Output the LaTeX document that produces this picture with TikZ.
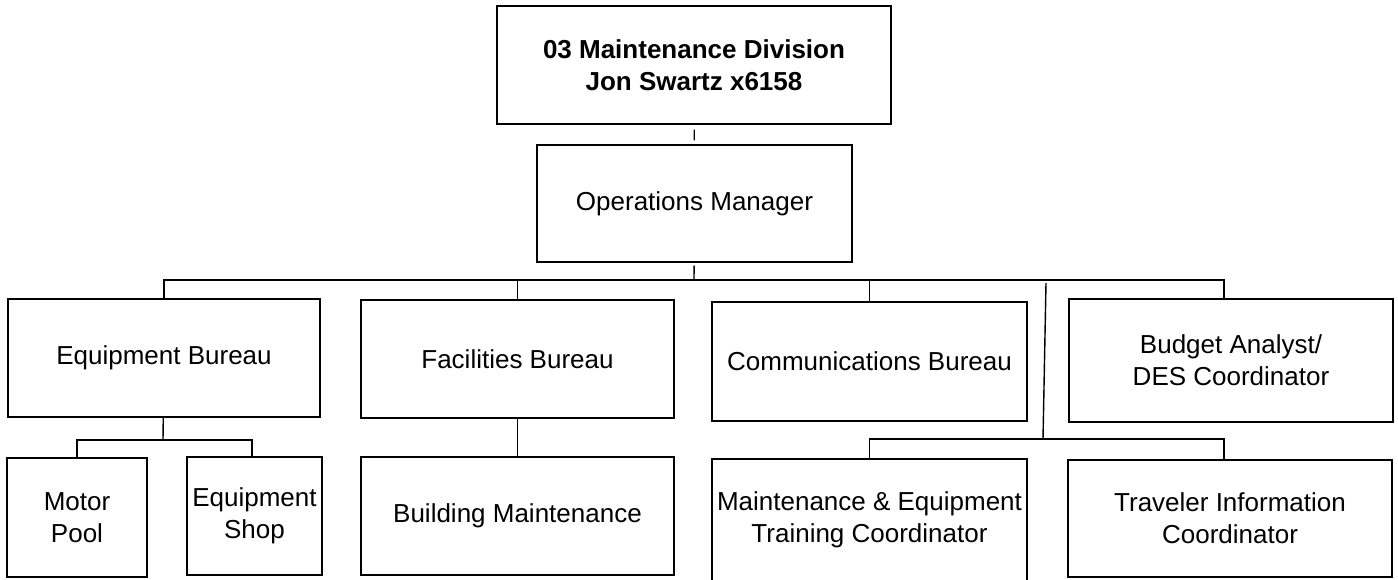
\documentclass[tikz,border=0pt]{standalone}
\usepackage{fontspec}
\setmainfont{Liberation Sans}
\usetikzlibrary{calc}
\definecolor{LineClr}{rgb}{0,0,0}

\begin{document}
\begin{tikzpicture}[x=.5pt,y=-.5pt,line width=.7pt,
  unit/.style={draw=LineClr,line width=.7pt,rectangle,align=center,inner sep=0pt,
    font=\fontsize{13}{16}\selectfont}]
\useasboundingbox (0,0) rectangle (1398,579);

\node[unit,minimum width=197pt,minimum height=59pt,
  font=\bfseries\fontsize{13}{16}\selectfont] (div) at (694,65) {03 Maintenance Division\\Jon Swartz x6158};
\node[unit,minimum width=157.5pt,minimum height=58.5pt] (ops) at (694.5,203.5) {Operations Manager};

\node[unit,minimum width=156pt,minimum height=59pt] (eqb) at (164,358) {Equipment Bureau};
\node[unit,minimum width=156.5pt,minimum height=59pt] (fac) at (517.5,359) {Facilities Bureau};
\node[unit,minimum width=157.5pt,minimum height=59.5pt] (com) at (869.5,361.5) {Communications Bureau};
\node[unit,minimum width=162pt,minimum height=61.5pt] (bud) at (1231,360.5) {Budget Analyst/\\DES Coordinator};

\node[unit,minimum width=70pt,minimum height=59.5pt] (mp) at (77,517.5) {Motor\\Pool};
\node[unit,minimum width=67.5pt,minimum height=59pt] (es) at (254.5,516) {Equipment\\Shop};
\node[unit,minimum width=156.5pt,minimum height=59pt] (bm) at (517.5,516) {Building Maintenance};
\node[unit,minimum width=157.5pt,minimum height=61pt] (met) at (869.5,520) {Maintenance \& Equipment\\Training Coordinator};
\node[unit,minimum width=162pt,minimum height=58.5pt] (tic) at (1230,518.5) {Traveler Information\\Coordinator};

\coordinate (J1) at (694,280);
\coordinate (J2) at (163,440);
\coordinate (J3) at (1043,439);
\coordinate (J3top) at (1046,283);

\draw[shorten <=2.5pt,shorten >=2pt] (div) -- (ops);
\draw[shorten <=1.5pt] (ops) -- (J1);
\draw (eqb) |- (J1) -| ([xshift=-3.5pt]bud.north);
\draw (fac) -- (fac |- J1);
\draw (com) -- (com |- J1);

\draw (eqb) -- (J2);
\draw (mp) |- (J2) -| ([xshift=-1.25pt]es.north);
\draw (fac) -- (bm);
\draw (J3top) -- (J3);
\draw (met) |- (J3) -| ([xshift=-3pt]tic.north);

\end{tikzpicture}
\end{document}
